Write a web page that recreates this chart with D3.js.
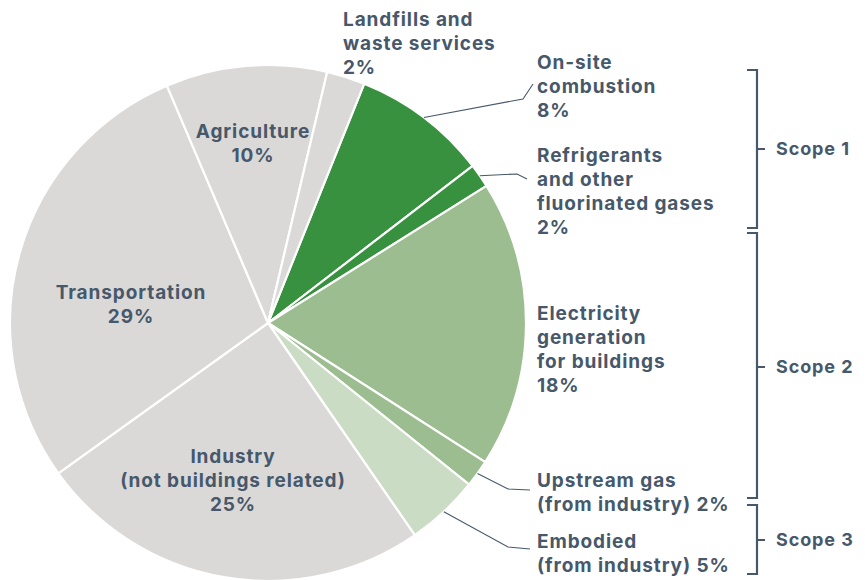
<!DOCTYPE html>
<html><head><meta charset="utf-8">
<script src="https://cdn.jsdelivr.net/npm/d3@7"></script>
<style>
html,body{margin:0;padding:0;background:#fff;}
svg text{font-family:Inter,"Open Sans",sans-serif;font-weight:700;fill:#46586a;letter-spacing:0.9px;}
</style></head>
<body>
<svg id="chart" width="865" height="580"></svg>
<script>
// ---- data ----
const categories = ["On-site combustion","Refrigerants and other fluorinated gases","Electricity generation for buildings","Upstream gas (from industry)","Embodied (from industry)","Industry (not buildings related)","Transportation","Agriculture","Landfills and waste services"];
const values = [8.5, 1.5, 18.0, 1.7, 4.6, 24.75, 28.5, 10.1, 2.4];
const displayPct = ["8%","2%","18%","2%","5%","25%","29%","10%","2%"];
const groups = ["scope1","scope1","scope2","scope2","scope3","other","other","other","other"];
const scopeNames = ["Scope 1","Scope 2","Scope 3"];

// ---- layout ----
const W = 865, H = 580, cx = 268, cy = 323, R = 258;
const startDeg = 21.9;
const colors = {scope1:"#37913f", scope2:"#9bbd8f", scope3:"#cadcc3", other:"#dbd9d8"};
const color = d3.scaleOrdinal().domain(categories).range(groups.map(g => colors[g]));

const svg = d3.select("#chart");
const g = svg.append("g").attr("transform", `translate(${cx},${cy})`);

const pie = d3.pie().sort(null).value(d => d.v)
  .startAngle(startDeg * Math.PI / 180)
  .endAngle(startDeg * Math.PI / 180 + 2 * Math.PI);
const data = categories.map((c, i) => ({c, v: values[i], i}));
const arcs = pie(data);
const arc = d3.arc().innerRadius(0).outerRadius(R);

g.selectAll("path.slice").data(arcs).join("path")
  .attr("class", "slice")
  .attr("d", arc)
  .attr("fill", d => color(d.data.c))
  .attr("stroke", "#fff").attr("stroke-width", 2.2).attr("stroke-linejoin", "round");

// label layout: lines of text (last line includes pct), anchor position
const LH = 24;
const labelLayout = [
  {i:0, x:537, y:69, anchor:"start", lines:["On-site","combustion","{p}"], leader:[[523,99],[533,84]]},
  {i:1, x:537, y:162, anchor:"start", lines:["Refrigerants","and other","fluorinated gases","{p}"], leader:[[517,174],[527,179]]},
  {i:2, x:537, y:320, anchor:"start", lines:["Electricity","generation","for buildings","{p}"]},
  {i:3, x:537, y:487, anchor:"start", lines:["Upstream gas","(from industry) {p}"], leader:[[508,489],[530,490]]},
  {i:4, x:537, y:548, anchor:"start", lines:["Embodied","(from industry) {p}"], leader:[[508,547],[530,549]]},
  {i:5, x:233, y:463, anchor:"middle", lines:["Industry","(not buildings related)","{p}"]},
  {i:6, x:131, y:299, anchor:"middle", lines:["Transportation","{p}"]},
  {i:7, x:253, y:138, anchor:"middle", lines:["Agriculture","{p}"]},
  {i:8, x:343, y:26, anchor:"start", lines:["Landfills and","waste services","{p}"]}
];

labelLayout.forEach(L => {
  const t = svg.append("text").attr("x", L.x).attr("y", L.y)
    .attr("text-anchor", L.anchor).style("font-size", "19px");
  L.lines.forEach((ln, k) => {
    t.append("tspan").attr("x", L.x).attr("y", L.y + k * LH)
      .text(ln.replace("{p}", displayPct[L.i]));
  });
  if (L.leader) {
    const a = arcs[L.i];
    const mid = (a.startAngle + a.endAngle) / 2;
    const p0 = [cx + Math.sin(mid) * R, cy - Math.cos(mid) * R];
    svg.append("path")
      .attr("d", d3.line()([p0, ...L.leader]))
      .attr("fill", "none").attr("stroke", "#46586a").attr("stroke-width", 1.1);
  }
});

// scope brackets
const brackets = [
  {name:scopeNames[0], y0:70, y1:228, ym:149},
  {name:scopeNames[1], y0:233, y1:498, ym:367},
  {name:scopeNames[2], y0:505, y1:574, ym:540}
];
const bx = 757;
brackets.forEach(b => {
  svg.append("path")
    .attr("d", `M${bx-10},${b.y0}H${bx}V${b.y1}H${bx-10}M${bx},${b.ym}H${bx+8}`)
    .attr("fill","none").attr("stroke","#46586a").attr("stroke-width",2.2);
  svg.append("text").attr("x", bx + 19).attr("y", b.ym + 6)
    .style("font-size","18px").text(b.name);
});
</script>
</body></html>
